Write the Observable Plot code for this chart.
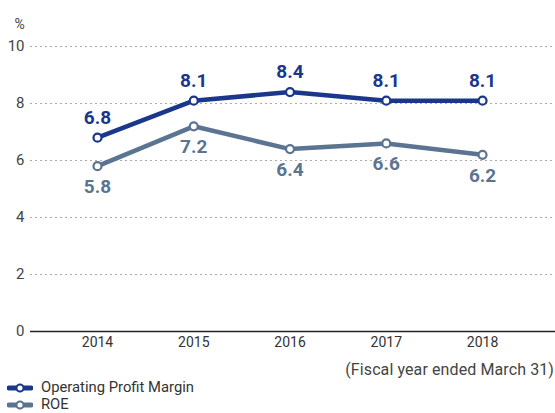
<!DOCTYPE html>
<html>
<head>
<meta charset="utf-8">
<script src="https://cdn.jsdelivr.net/npm/d3@7"></script>
<script src="https://cdn.jsdelivr.net/npm/@observablehq/plot@0.6"></script>
<style>
  body { margin: 0; background: #fff; font-family: Roboto, "Noto Sans", sans-serif; overflow: hidden; }
  #wrap { width: 555px; position: relative; }
  .caption { text-align: right; font-size: 16px; color: #444; margin-top: 6px; padding-right: 1px; height: 18px; line-height: 18px; letter-spacing: 0.1px; }
  .leg { display: flex; align-items: center; font-size: 14.8px; color: #333; height: 17px; line-height: 17px; }
  .leg svg { margin-left: 7px; margin-right: 8px; }
</style>
</head>
<body>
<div id="wrap"></div>
<script>
const years = [2014, 2015, 2016, 2017, 2018];
const opMargin = [6.8, 8.1, 8.4, 8.1, 8.1];
const roe = [5.8, 7.2, 6.4, 6.6, 6.2];
const yTicks = [0, 2, 4, 6, 8, 10];
const seriesNames = ["Operating Profit Margin", "ROE"];
const colors = ["#1a378c", "#5b7492"];

const opData = years.map((y, i) => ({year: y, value: opMargin[i]}));
const roeData = years.map((y, i) => ({year: y, value: roe[i]}));

const chart = Plot.plot({
  width: 555,
  height: 355,
  marginLeft: 30,
  marginRight: 0,
  marginTop: 46,
  marginBottom: 24,
  style: {fontFamily: "Roboto, sans-serif", fontSize: "14px", color: "#444", background: "#fff"},
  x: {type: "linear", domain: [2013.304, 2018.758], ticks: years, tickFormat: d => String(d), tickSize: 0, tickPadding: 7, label: null},
  y: {domain: [0, 10], ticks: yTicks, tickSize: 0, tickPadding: 6, label: null},
  marks: [
    Plot.ruleY(yTicks.filter(d => d > 0), {stroke: "#aaa", strokeDasharray: "2,3", strokeWidth: 1}),
    Plot.ruleY([0], {stroke: "#222", strokeWidth: 1.3}),
    Plot.axisX({ticks: years, tickFormat: d => String(d), tickSize: 0, tickPadding: 6, fontSize: 14, fill: "#333"}),
    Plot.axisY({ticks: yTicks, tickSize: 0, tickPadding: 6, fontSize: 15, fill: "#444"}),
    Plot.text(["%"], {frameAnchor: "top-left", dx: -16, dy: -27, fontSize: 14, fill: "#444"}),
    Plot.line(roeData, {x: "year", y: "value", stroke: colors[1], strokeWidth: 4.5}),
    Plot.dot(roeData, {x: "year", y: "value", r: 4, fill: "#fff", stroke: colors[1], strokeWidth: 2.2}),
    Plot.text(roeData, {x: "year", y: "value", text: d => d.value.toFixed(1), dy: 21, fill: colors[1], fontSize: 19, fontWeight: "bold"}),
    Plot.line(opData, {x: "year", y: "value", stroke: colors[0], strokeWidth: 4.5}),
    Plot.dot(opData, {x: "year", y: "value", r: 4, fill: "#fff", stroke: colors[0], strokeWidth: 2.2}),
    Plot.text(opData, {x: "year", y: "value", text: d => d.value.toFixed(1), dy: -20, fill: colors[0], fontSize: 19, fontWeight: "bold"})
  ]
});

const wrap = document.getElementById("wrap");
wrap.appendChild(chart);

const cap = document.createElement("div");
cap.className = "caption";
cap.textContent = "(Fiscal year ended March 31)";
wrap.appendChild(cap);

seriesNames.forEach((name, i) => {
  const row = document.createElement("div");
  row.className = "leg";
  row.innerHTML = `<svg width="26" height="12"><line x1="2" x2="24" y1="6" y2="6" stroke="${colors[i]}" stroke-width="5" stroke-linecap="round"/><circle cx="13" cy="6" r="3.5" fill="#fff" stroke="${colors[i]}" stroke-width="2"/></svg><span>${name}</span>`;
  wrap.appendChild(row);
});
</script>
</body>
</html>
